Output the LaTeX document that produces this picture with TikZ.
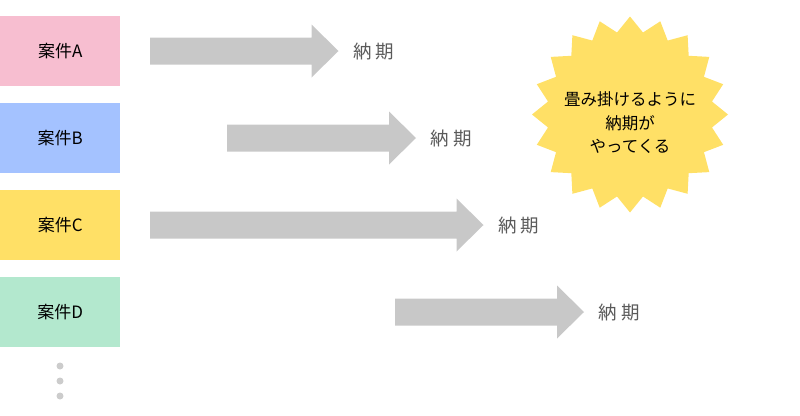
\documentclass[tikz,border=0pt]{standalone}
\usepackage{fontspec}
\setmainfont{Noto Sans CJK JP}
\usetikzlibrary{calc}
\definecolor{cpink}{RGB}{247,190,208}
\definecolor{cblue}{RGB}{164,194,255}
\definecolor{cyellow}{RGB}{255,224,102}
\definecolor{cmint}{RGB}{179,232,206}
\definecolor{cgray}{RGB}{200,200,200}
\definecolor{clabel}{RGB}{90,90,90}
\definecolor{cdot}{RGB}{204,204,204}
\tikzset{
  case/.style={minimum width=120pt,minimum height=70pt,inner sep=0pt,anchor=north west,font=\fontsize{17pt}{19pt}\selectfont,text=black},
  garrow/.style={fill=cgray,draw=none},
  duelabel/.style={anchor=west,text=clabel,font=\fontsize{18.5pt}{20pt}\selectfont,inner sep=0pt},
  dotstyle/.style={circle,fill=cdot,inner sep=0pt,minimum size=7pt}
}
\newcommand\grarrow[2]{%
  \path[garrow] ($(#1)+(0,-13.5)$) -- ($(#2)+(-27,-13.5)$) -- ($(#2)+(-27,-26.5)$)
    -- (#2) -- ($(#2)+(-27,26.5)$) -- ($(#2)+(-27,13.5)$) -- ($(#1)+(0,13.5)$) -- cycle;}
\begin{document}
\begin{tikzpicture}[x=1pt,y=-1pt]
\useasboundingbox (0,0) rectangle (800,415);
% case boxes
\node[case,fill=cpink] (ca) at (0,16) {案件A};
\node[case,fill=cblue] (cb) at (0,103) {案件B};
\node[case,fill=cyellow] (cc) at (0,190) {案件C};
\node[case,fill=cmint] (cd) at (0,277) {案件D};
% arrow ends
\coordinate (sa) at (150,51);   \coordinate (ta) at (338.5,51);
\coordinate (sb) at (227,138);  \coordinate (tb) at (416,138);
\coordinate (sc) at (150,225);  \coordinate (tc) at (483.5,225);
\coordinate (sd) at (395,312);  \coordinate (td) at (584,312);
\grarrow{sa}{ta}
\grarrow{sb}{tb}
\grarrow{sc}{tc}
\grarrow{sd}{td}
% labels
\node[duelabel] (la) at ([xshift=14.5pt]ta) {納\kern4pt 期};
\node[duelabel] (lb) at ([xshift=14.5pt]tb) {納\kern4pt 期};
\node[duelabel] (lc) at ([xshift=14.5pt]tc) {納\kern4pt 期};
\node[duelabel] (ld) at ([xshift=14.5pt]td) {納\kern4pt 期};
% dots
\node[dotstyle] (d1) at (60,366) {};
\node[dotstyle] (d2) at (60,381) {};
\node[dotstyle] (d3) at (60,396) {};
% starburst
\fill[cyellow] (630,16.5)
  \foreach \i in {0,...,19} {
    -- ({630+83*cos(99+18*\i)},{114.5-83*sin(99+18*\i)})
    -- ({630+98*cos(108+18*\i)},{114.5-98*sin(108+18*\i)})
  } -- cycle;
\node[align=center,font=\fontsize{16.5pt}{23.5pt}\selectfont,text=black,inner sep=0pt] (burst) at (630,123) {畳み掛けるように\\納期が\\やってくる};
\end{tikzpicture}
\end{document}
